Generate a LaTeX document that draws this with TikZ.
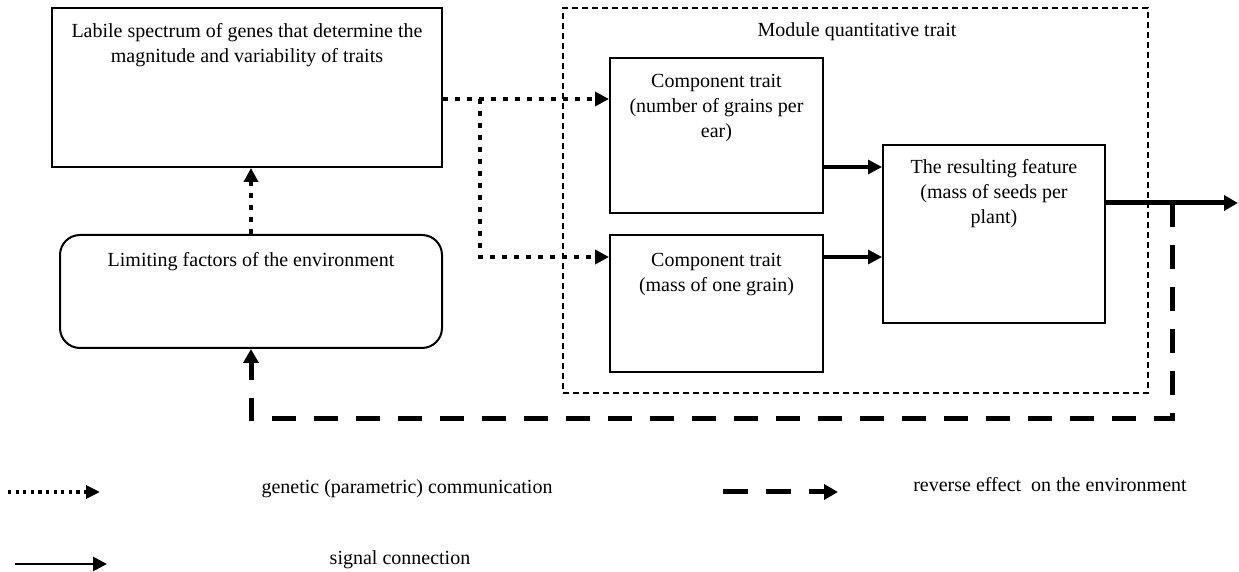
\documentclass[tikz,border=0pt]{standalone}
\usepackage{fontspec}
\setmainfont{Liberation Serif}
\usetikzlibrary{arrows.meta}

\tikzset{
  box/.style={draw, line width=1pt, inner sep=0pt},
  txt/.style={align=center, font=\fontsize{10}{12.5}\selectfont, inner sep=0pt},
  gen/.style={line width=2.4pt, dash pattern=on 2.4pt off 3.6pt, -{Triangle[length=7pt,width=7pt]}},
  sig/.style={line width=1.6pt, -{Triangle[length=7pt,width=7pt]}},
  rev/.style={line width=2.5pt, dash pattern=on 12pt off 9pt, -{Triangle[length=7pt,width=7.5pt]}},
}

\begin{document}
\begin{tikzpicture}[x=0.5pt,y=-0.5pt]
  \useasboundingbox (0,0) rectangle (1239,572);

  % module of the trait
  \node[draw, line width=0.6pt, dash pattern=on 3pt off 2pt, minimum width=292.5pt, minimum height=192.5pt] (module) at (855.5,200.5) {};
  \node[txt] (moduletitle) at (857,32) {Module quantitative trait};

  \node[box, minimum width=195pt, minimum height=79.5pt] (genes) at (247,87.5) {};
  \node[txt] (genestext) at (247,45) {Labile spectrum of genes that determine the\\magnitude and variability of traits};

  \node[box, rounded corners=10pt, minimum width=191pt, minimum height=56.5pt] (env) at (251,291.5) {};
  \node[txt] (envtext) at (251,262) {Limiting factors of the environment};

  \node[box, minimum width=106.5pt, minimum height=77.5pt] (comp1) at (716.5,135.5) {};
  \node[txt] (comp1text) at (716.5,108) {Component trait\\(number of grains per\\ear)};

  \node[box, minimum width=106.5pt, minimum height=68.5pt] (comp2) at (716.5,303.5) {};
  \node[txt] (comp2text) at (716.5,275) {Component trait\\(mass of one grain)};

  \node[box, minimum width=111pt, minimum height=89pt] (res) at (994,234) {};
  \node[txt] (restext) at (994,194) {The resulting feature\\(mass of seeds per\\plant)};

  % genetic links
  \coordinate (split) at (480,99);
  \coordinate (splitlow) at (480,257);
  \draw[gen] (genes.east |- split) -- (comp1.west |- split);
  \draw[gen] (split) -- (splitlow) -- (comp2.west |- splitlow);
  \draw[gen] (env.north) -- (genes.south -| env.north);

  % signal links
  \coordinate (sig1) at (850,167);
  \coordinate (sig2) at (850,257);
  \draw[sig] (comp1.east |- sig1) -- (res.west |- sig1);
  \draw[sig] (comp2.east |- sig2) -- (res.west |- sig2);

  % output and feedback
  \coordinate (exit) at (1238,203);
  \coordinate (tap) at (1172,203);
  \coordinate (fbcorner) at (1172,419);
  \draw[line width=2.5pt, -{Triangle[length=7pt,width=7.5pt]}] (res.east |- exit) -- (exit);
  \draw[rev] (tap) -- (fbcorner) -| (env.south);

  % legend
  \coordinate (key1a) at (8,492);
  \coordinate (key1b) at (100,492);
  \draw[line width=1.6pt, dash pattern=on 1.6pt off 2.2pt, -{Triangle[length=7pt,width=6.5pt]}] (key1a) -- (key1b);
  \node[txt] (key1) at (407,489) {genetic (parametric) communication};

  \coordinate (key2a) at (723,492);
  \coordinate (key2b) at (838,492);
  \draw[rev, dash pattern=on 12.5pt off 9pt] (key2a) -- (key2b);
  \node[txt] (key2) at (1050,485) {reverse effect\ \ on the environment};

  \coordinate (key3a) at (15,564);
  \coordinate (key3b) at (107,564);
  \draw[sig, line width=1.4pt] (key3a) -- (key3b);
  \node[txt] (key3) at (400,560) {signal connection};
\end{tikzpicture}
\end{document}
